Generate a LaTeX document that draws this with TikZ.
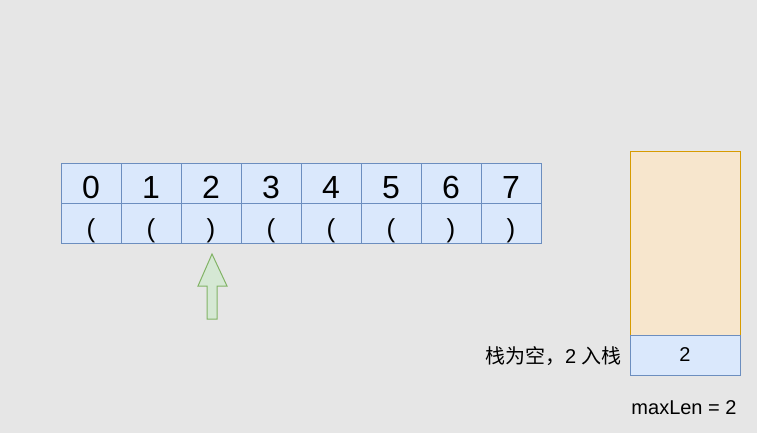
\documentclass[tikz,border=0pt]{standalone}
\usepackage{fontspec}
\setmainfont{Liberation Sans}
\newfontfamily\cjk{Noto Sans CJK SC}
\usetikzlibrary{positioning}
\definecolor{bggray}{RGB}{230,230,230}
\definecolor{cellblue}{RGB}{218,232,252}
\definecolor{cellline}{RGB}{108,142,191}
\definecolor{stackfill}{RGB}{247,230,205}
\definecolor{stackline}{RGB}{215,155,0}
\definecolor{ptrfill}{RGB}{213,232,212}
\definecolor{ptrline}{RGB}{130,179,102}
\tikzset{
  cell/.style    = {draw=cellline, fill=cellblue, line width=1pt,
                    minimum width=60pt, minimum height=40pt, inner sep=0pt},
  % text height pushes the glyphs a little below the cell centre
  idx/.style     = {cell, font=\fontsize{32}{36}\selectfont,
                    text height=31pt, text depth=0pt},
  brk/.style     = {cell, font=\fontsize{26}{30}\selectfont,
                    text height=28pt, text depth=0pt},
  slot/.style    = {cell, minimum width=110pt, font=\fontsize{20}{24}\selectfont},
  stackbox/.style= {draw=stackline, fill=stackfill, line width=1pt,
                    minimum width=110pt, minimum height=184pt, inner sep=0pt},
  note/.style    = {font=\fontsize{20}{24}\selectfont, inner sep=0pt},
  ptr/.style     = {draw=ptrline, fill=ptrfill, line width=1pt, line join=miter},
}

\begin{document}
\begin{tikzpicture}[x=1pt, y=-1pt]

    \fill[bggray] (0,0) rectangle (757,433);
    \useasboundingbox (0,0) rectangle (757,433);

    % index row
    \node[idx] (i0) at (91, 183)  {0};
    \node[idx] (i1) at (151, 183) {1};
    \node[idx] (i2) at (211, 183) {2};
    \node[idx] (i3) at (271, 183) {3};
    \node[idx] (i4) at (331, 183) {4};
    \node[idx] (i5) at (391, 183) {5};
    \node[idx] (i6) at (451, 183) {6};
    \node[idx] (i7) at (511, 183) {7};

    % bracket row
    \node[brk] (c0) at (91, 223)  {(};
    \node[brk] (c1) at (151, 223) {(};
    \node[brk] (c2) at (211, 223) {)};
    \node[brk] (c3) at (271, 223) {(};
    \node[brk] (c4) at (331, 223) {(};
    \node[brk] (c5) at (391, 223) {(};
    \node[brk] (c6) at (451, 223) {)};
    \node[brk] (c7) at (511, 223) {)};

    % current position
    \draw[ptr] (212,254) -- (227,286) -- (217,286) -- (217,319)
               -- (207,319) -- (207,286) -- (198,286) -- cycle;

    \node[stackbox] (stk) at (685, 243) {};
    \node[slot]     (s0)  at (685, 355) {2};

    \node[note, anchor=east] (msg) at (622, 356) {{\cjk 栈为空，}2 {\cjk 入栈}};
    \node[note, anchor=base] (len) at (684, 414) {maxLen = 2};
  \end{tikzpicture}
\end{document}
